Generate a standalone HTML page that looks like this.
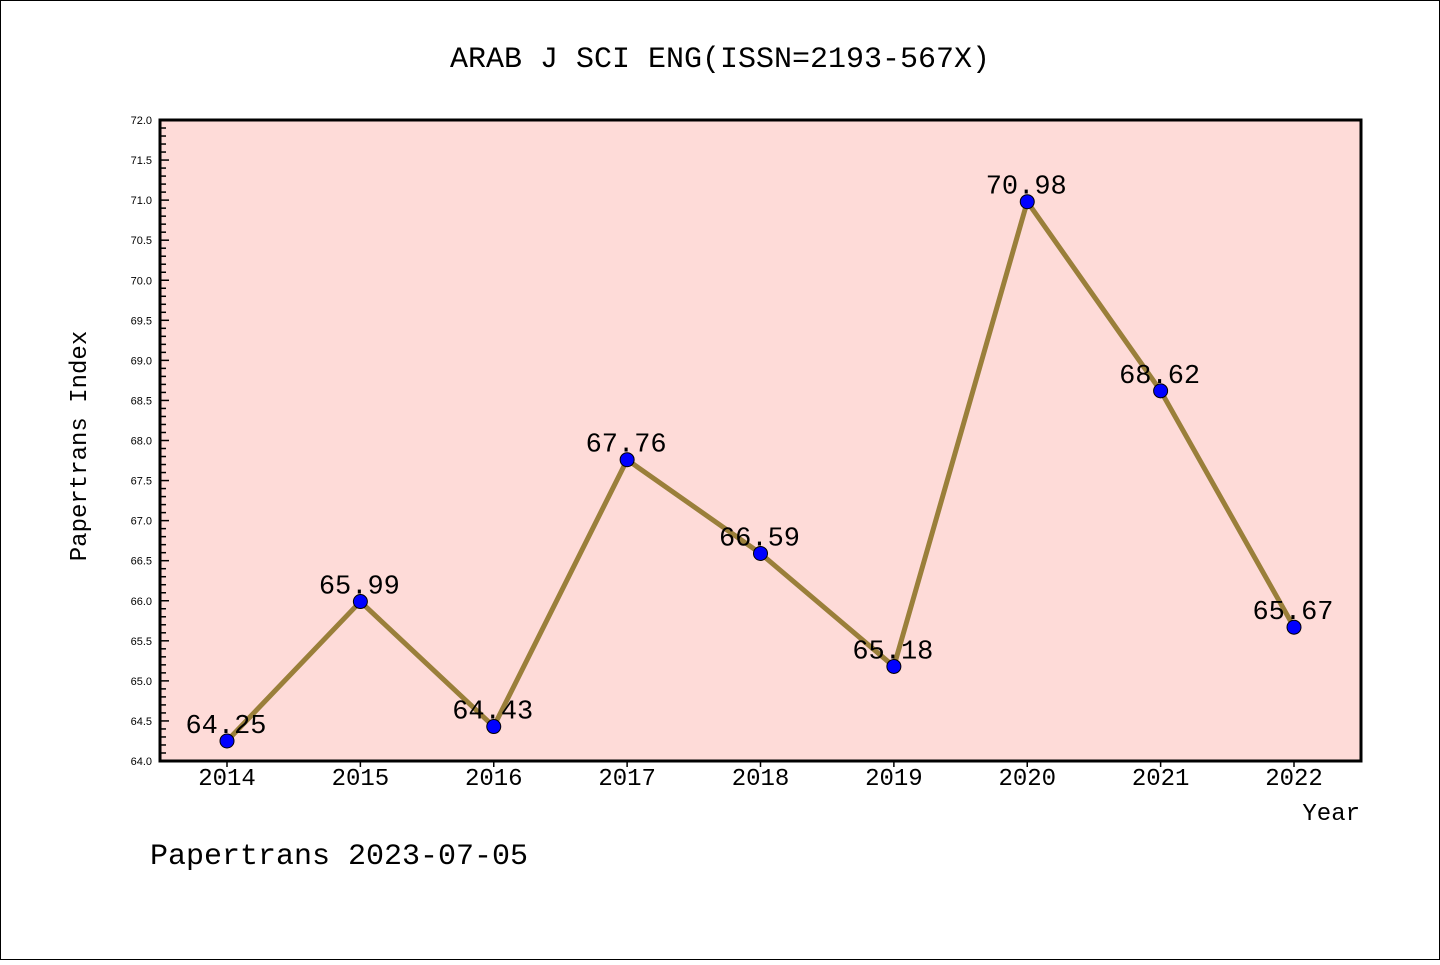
<!DOCTYPE html>
<html><head><meta charset="utf-8"><style>
body{margin:0;background:#fff}
svg text{font-family:"Liberation Mono","DejaVu Sans Mono",monospace}
</style></head><body>
<svg id="c" width="1440" height="960" xmlns="http://www.w3.org/2000/svg">
<rect x="0.5" y="0.5" width="1439" height="959" fill="#fff" stroke="#000"/>
<text x="720" y="67" font-size="30" text-anchor="middle">ARAB J SCI ENG(ISSN=2193-567X)</text>
<rect x="160" y="120" width="1201" height="641" fill="#fedbd8"/>
<g id="ticks"></g>
<g id="series"></g>
<rect x="160" y="120" width="1201" height="641" fill="none" stroke="#000" stroke-width="3"/>
<text x="86" y="446" font-size="24" text-anchor="middle" transform="rotate(-90 86 446)">Papertrans Index</text>
<text x="1360" y="820" font-size="24" text-anchor="end">Year</text>
<text x="150" y="864" font-size="30">Papertrans 2023-07-05</text>
</svg>
<script>
const years=["2014","2015","2016","2017","2018","2019","2020","2021","2022"];
const values=[64.25,65.99,64.43,67.76,66.59,65.18,70.98,68.62,65.67];
const valueLabels=["64.25","65.99","64.43","67.76","66.59","65.18","70.98","68.62","65.67"];
const yTicks=["64.0","64.5","65.0","65.5","66.0","66.5","67.0","67.5","68.0","68.5","69.0","69.5","70.0","70.5","71.0","71.5","72.0"];
const NS="http://www.w3.org/2000/svg";
const x0=227,dx=133.375,yMin=64,yMax=72,plotTop=120,plotBot=761;
const X=i=>x0+i*dx, Y=v=>plotBot-(v-yMin)/(yMax-yMin)*(plotBot-plotTop);
function mk(t,a,p){const e=document.createElementNS(NS,t);for(const k in a)e.setAttribute(k,a[k]);p.appendChild(e);return e;}
const tg=document.getElementById('ticks'),sg=document.getElementById('series');
for(let k=0;k<=80;k++){const v=yMin+k*0.1,y=Y(v),major=k%5==0;
 const l=mk('line',{x1:160,x2:160+(major?9:6),y1:y,y2:y,stroke:'#000','stroke-width':1.5},tg);
 
 }
yTicks.forEach(s=>{const t=mk('text',{x:152,y:Y(parseFloat(s))+4,'font-size':11,'text-anchor':'end',style:'font-family:"Liberation Sans",sans-serif'},tg);t.textContent=s;
 
 });
years.forEach((yr,i)=>{const l=mk('line',{x1:X(i),x2:X(i),y1:plotBot,y2:plotBot+6,stroke:'#000','stroke-width':1.5},tg);
 
 
 const t=mk('text',{x:X(i),y:785,'font-size':24,'text-anchor':'middle'},tg);t.textContent=yr;
 
 });
const pl=mk('polyline',{points:values.map((v,i)=>X(i)+','+Y(v)).join(' '),fill:'none',stroke:'#9a7f3a','stroke-width':5,'stroke-linejoin':'round'},sg);


values.forEach((v,i)=>{const c=mk('circle',{cx:X(i),cy:Y(v),r:7,fill:'#0000ff',stroke:'#000','stroke-width':1},sg);
 
 
 const t=mk('text',{x:X(i)-1,y:Y(v)-8,'font-size':27,'text-anchor':'middle'},sg);t.textContent=valueLabels[i];
 
 });
</script>
</body></html>
